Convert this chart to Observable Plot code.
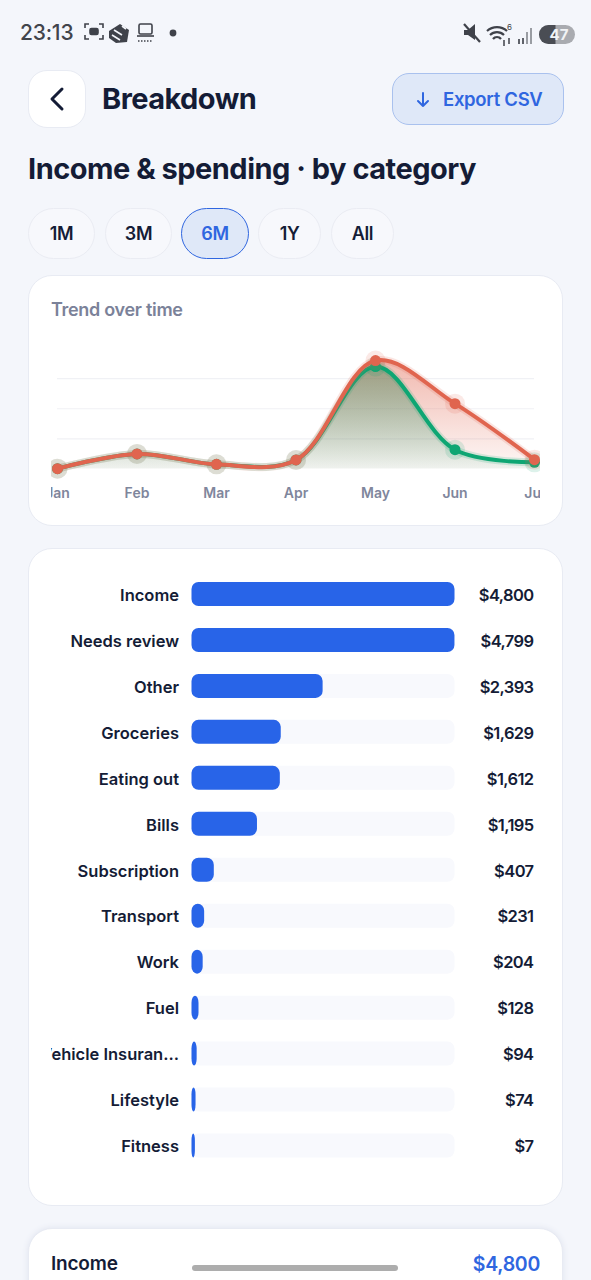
<!DOCTYPE html>
<html><head><meta charset="utf-8">
<script src="https://cdn.jsdelivr.net/npm/d3@7"></script>
<script src="https://cdn.jsdelivr.net/npm/@observablehq/plot@0.6"></script>
<style>
html,body{margin:0;padding:0;width:591px;height:1280px;overflow:hidden;background:#f4f6fb;font-family:Inter,"Open Sans",sans-serif;color:#141c36}
.a{position:absolute;white-space:nowrap;box-sizing:border-box}
.card{background:#fff;border:1.5px solid #e8ebf3;border-radius:24px}
.chip{top:208px;height:51px;border:1.5px solid #eaecf3;border-radius:26px;background:#f7f8fc;display:flex;align-items:center;justify-content:center;font-size:18px;font-weight:600;letter-spacing:-.4px}
.chip.on{background:#dfe8f8;border-color:#2f66e0;color:#2f66e0}
svg{display:block}
#bars g[aria-label="text"]:last-of-type{letter-spacing:-.6px}
</style></head><body>

<div class="a" style="left:20px;top:20px;font-size:21px;font-weight:500;color:#41444b;letter-spacing:-.2px">23:13</div>
<svg class="a" style="left:84px;top:22px" width="100" height="24" fill="none" stroke="#3f424a" stroke-width="1.6">
<path d="M1 6V2h4M15 2h4v4M19 13v4h-4M5 17H1v-4"/><rect x="6" y="6.5" width="8" height="6" rx="1.5" fill="#3f424a"/>
<path d="M25 9l11-7 9 6-2 12-11 1-7-5z" fill="#3f424a" stroke="none"/><path d="M30 8l8 5M28 13l8 5M38 4l4 3" stroke="#f4f6fb"/>
<rect x="55" y="2" width="13" height="10" rx="1.5"/><path d="M53 14h17"/><path d="M54 19h15" stroke-dasharray="1.5 1.5"/>
<circle cx="89" cy="11" r="3.4" fill="#3f424a" stroke="none"/></svg>
<svg class="a" style="left:460px;top:21px" width="116" height="26" fill="none" stroke="#3f424a">
<path d="M4 9h4l7-6v16l-7-5H4z" fill="#3f424a" stroke="none"/><path d="M4 3l16 18" stroke-width="2.2"/>
<path d="M27 10a15 15 0 0 1 20 0M30 14a10 10 0 0 1 14 0M33 18a5 5 0 0 1 8 0" stroke-width="2.2"/><path d="M44 19v6M49 17v6" stroke-width="1.5"/><text x="47" y="9" font-size="8" font-family="Inter" fill="#3f424a" stroke="none">6</text>
<path d="M59 18v5M63 17v6" stroke="#5f626a" stroke-width="2"/><path d="M67 11v12M71 7v16" stroke="#9a9da3" stroke-width="2"/>
<rect x="79" y="4" width="36" height="19" rx="9.5" fill="#a9abb0" stroke="none"/><path d="M88.5 4h7v19h-7a9.5 9.5 0 0 1 0-19z" fill="#4a4d54" stroke="none"/></svg>
<div class="a" style="left:544px;top:25px;width:30px;text-align:center;font-size:15px;font-weight:700;color:#f2f3f5">47</div>

<div class="a card" style="left:28px;top:70px;width:58px;height:58px;border-radius:19px"></div>
<svg class="a" style="left:47px;top:85px" width="22" height="28" fill="none" stroke="#141c36" stroke-width="3" stroke-linecap="round" stroke-linejoin="round"><path d="M15 4L5 14l10 10"/></svg>
<div class="a" style="left:102px;top:81px;font-size:29px;font-weight:700;letter-spacing:-.55px">Breakdown</div>
<div class="a" style="left:392px;top:73px;width:172px;height:52px;background:#dfe8f8;border:1.5px solid #a9c1ee;border-radius:17px"></div>
<svg class="a" style="left:414px;top:91px" width="18" height="18" fill="none" stroke="#2f66e0" stroke-width="2" stroke-linecap="round" stroke-linejoin="round"><path d="M9 2v13M4 10l5 5 5-5"/></svg>
<div class="a" style="left:443px;top:88px;font-size:18.5px;font-weight:600;color:#2f66e0;letter-spacing:-.3px">Export CSV</div>
<div class="a" style="left:28px;top:151px;font-size:29px;font-weight:700;letter-spacing:-.5px">Income &amp; spending · by category</div>

<div class="a chip" style="left:28px;width:67px">1M</div>
<div class="a chip" style="left:105px;width:67px">3M</div>
<div class="a chip on" style="left:181px;width:68px">6M</div>
<div class="a chip" style="left:258px;width:63px">1Y</div>
<div class="a chip" style="left:331px;width:63px">All</div>

<div class="a card" style="left:28px;top:275px;width:535px;height:251px"></div>
<div class="a" style="left:51px;top:299px;font-size:18px;font-weight:600;color:#7b8299;letter-spacing:-.3px">Trend over time</div>
<div class="a" id="trend" style="left:51px;top:340px"></div>

<div class="a card" style="left:28px;top:548px;width:535px;height:658px"></div>
<div class="a" id="bars" style="left:51px;top:570.5px"></div>

<div class="a card" style="left:28px;top:1228px;width:535px;height:90px;box-shadow:0 0 6px #dfe3ee"></div>
<div class="a" style="left:51px;top:1252px;font-size:19px;font-weight:600;letter-spacing:-.2px">Income</div>
<div class="a" style="right:51px;top:1252px;font-size:19.5px;font-weight:600;color:#2f66e0;letter-spacing:-.3px">$4,800</div>
<div class="a" style="left:192px;top:1265px;width:206px;height:6px;border-radius:3px;background:#adadad"></div>

<script>
const months = ["Jan","Feb","Mar","Apr","May","Jun","Jul"];
const incomeByMonth = [12, 500, 155, 300, 3400, 640, 220];
const spendingByMonth = [12, 500, 155, 300, 3600, 2170, 310];
const gridValues = [1000, 2000, 3000];

const categories = ["Income","Needs review","Other","Groceries","Eating out","Bills","Subscription","Transport","Work","Fuel","Vehicle Insuran…","Lifestyle","Fitness"];
const totals = [4800,4799,2393,1629,1612,1195,407,231,204,128,94,74,7];
const smallestDrawnTotal = 62;

const green = "#0ea673", red = "#e0654f";
const font = "Inter,'Open Sans',sans-serif";
const rows = (vals) => months.map((month, i) => ({month, value: vals[i]}));
const income = rows(incomeByMonth), spending = rows(spendingByMonth);

function gradients() {
  const defs = d3.create("svg:defs");
  [["gGreen", green, .6, .06], ["gRed", red, .46, .05]].forEach(([id, c, a, b]) => {
    const g = defs.append("linearGradient").attr("id", id).attr("x1",0).attr("y1",0).attr("x2",0).attr("y2",1);
    g.append("stop").attr("offset","0%").attr("stop-color",c).attr("stop-opacity",a);
    g.append("stop").attr("offset","100%").attr("stop-color",c).attr("stop-opacity",b);
  });
  return defs.node();
}
const curve = "catmull-rom";
document.getElementById("trend").append(Plot.plot({
  width: 489, height: 170, marginLeft: 6, marginRight: 6, marginTop: 8, marginBottom: 41.5,
  style: {overflow: "hidden", background: "transparent", fontFamily: font},
  x: {type: "point", domain: months, padding: 0, round: false},
  y: {domain: [0, 4000], axis: null},
  marks: [
    gradients,
    Plot.ruleY(gridValues, {stroke: "#f0f1f5", strokeWidth: 1.2}),
    Plot.areaY(income, {x: "month", y: "value", curve, fill: "url(#gGreen)"}),
    Plot.areaY(spending, {x: "month", y: "value", curve, fill: "url(#gRed)"}),
    Plot.line(income, {x: "month", y: "value", curve, stroke: green, strokeWidth: 8, strokeOpacity: .16}),
    Plot.line(income, {x: "month", y: "value", curve, stroke: green, strokeWidth: 4}),
    Plot.dot(income, {x: "month", y: "value", r: 10, fill: green, fillOpacity: .14}),
    Plot.dot(income, {x: "month", y: "value", r: 5.5, fill: green}),
    Plot.line(spending, {x: "month", y: "value", curve, stroke: red, strokeWidth: 8, strokeOpacity: .16}),
    Plot.line(spending, {x: "month", y: "value", curve, stroke: red, strokeWidth: 4}),
    Plot.dot(spending, {x: "month", y: "value", r: 10, fill: red, fillOpacity: .14}),
    Plot.dot(spending, {x: "month", y: "value", r: 5.5, fill: red}),
    Plot.axisX({tickSize: 0, tickPadding: 19, label: null, fontSize: 14, fontWeight: 600, fill: "#7f869c"})
  ]
}));

const table = categories.map((category, i) => ({category, total: totals[i]}));
document.getElementById("bars").append(Plot.plot({
  width: 489, height: 597.5, marginLeft: 140.5, marginRight: 85.5, marginTop: 0, marginBottom: 0,
  style: {overflow: "hidden", background: "transparent", fontFamily: font},
  x: {domain: [0, 4800], axis: null},
  y: {domain: categories, axis: null, paddingInner: .478, paddingOuter: .239, align: .5, round: false},
  marks: [
    Plot.barX(table, {x1: 0, x2: 4800, y: "category", fill: "#f8f9fd", rx: 7}),
    Plot.barX(table, {x1: 0, x2: d => Math.max(d.total, smallestDrawnTotal), y: "category", fill: "#2864e8", rx: 7}),
    Plot.text(table, {x: 0, y: "category", text: "category", textAnchor: "end", dx: -13, dy: 1, fontSize: 16.5, fontWeight: 600, fill: "#141c36"}),
    Plot.text(table, {x: 4800, y: "category", text: d => "$" + d3.format(",")(d.total), textAnchor: "end", dx: 78.5, dy: 1, fontSize: 16.5, fontWeight: 600, fill: "#141c36"})
  ]
}));
</script>
</body></html>
